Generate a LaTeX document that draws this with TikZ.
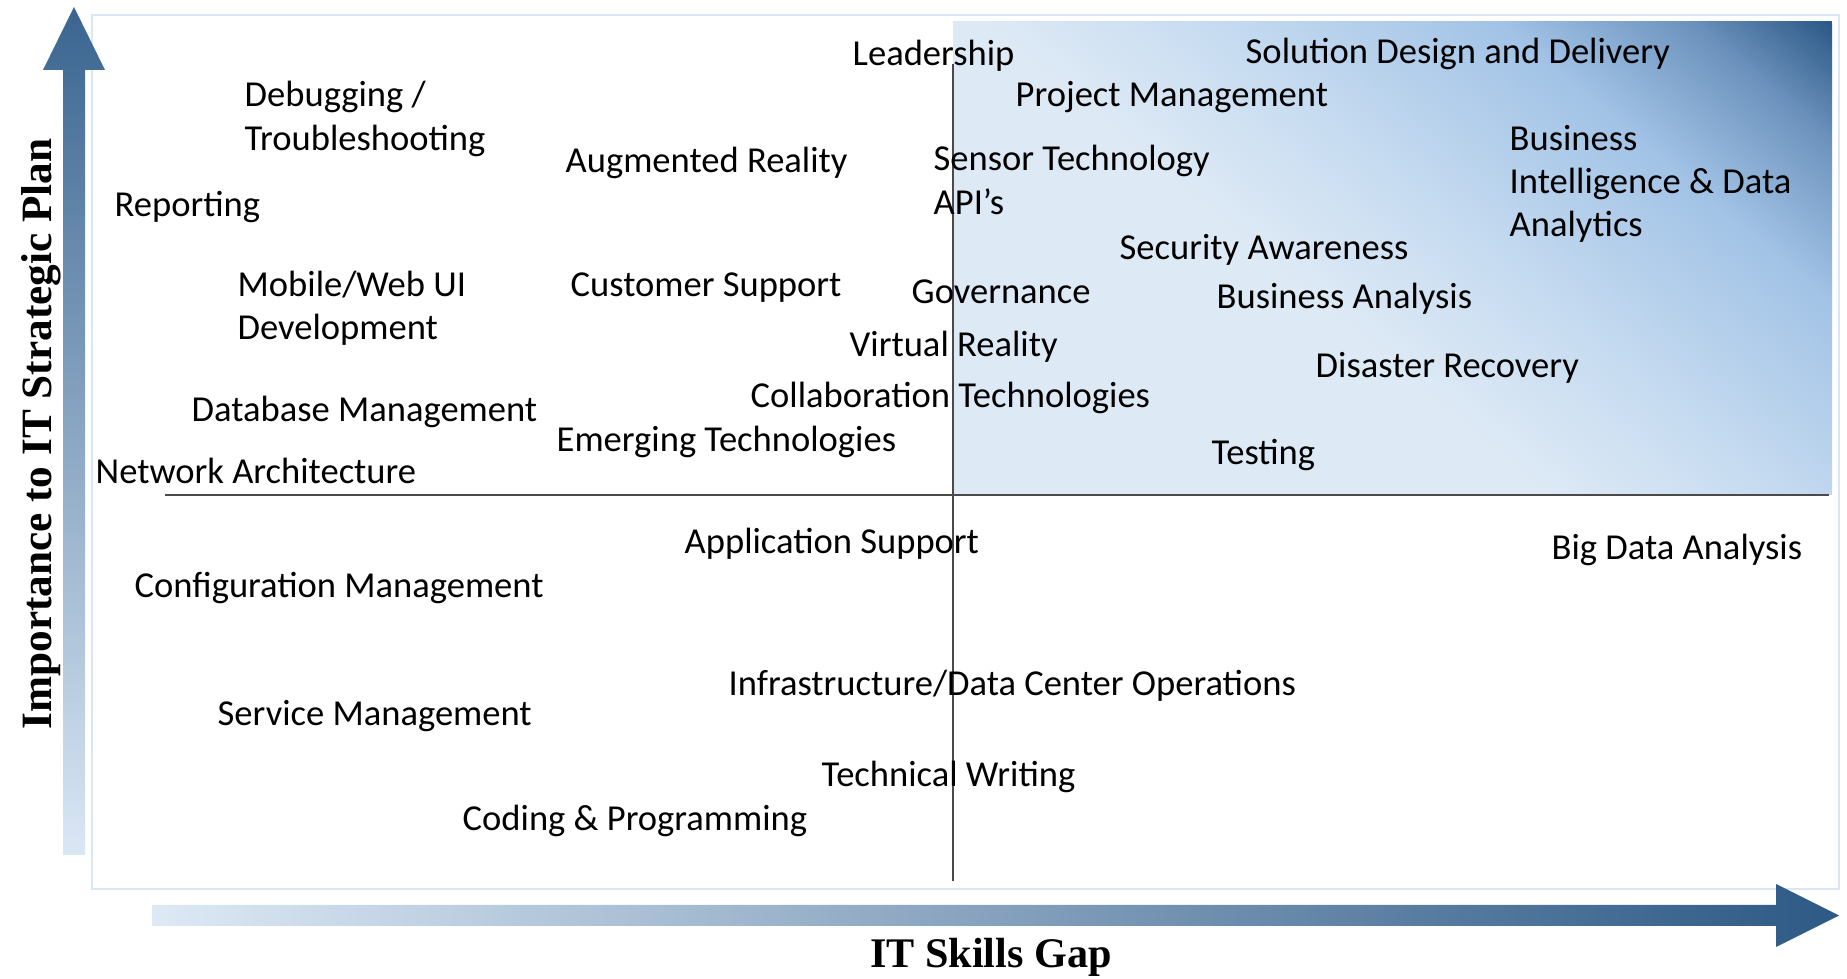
\documentclass[tikz,border=0pt]{standalone}
\usepackage{fontspec}
\setmainfont{Carlito}
\newfontfamily\axisfont{Liberation Serif}

\definecolor{qpale}{HTML}{DDE9F5}
\definecolor{qsoft}{HTML}{C9DDF1}
\definecolor{qmid}{HTML}{A2C3E6}
\definecolor{qsteel}{HTML}{6E94BE}
\definecolor{qdeep}{HTML}{2C5886}
\definecolor{frameblue}{HTML}{DAE6F4}
\definecolor{axisgray}{HTML}{4A4A4A}
\definecolor{arrlow}{HTML}{DAE7F5}
\definecolor{arrmid}{HTML}{A9C8E7}
\definecolor{arrtop}{HTML}{3A6590}
\definecolor{arrend}{HTML}{2D5985}

\pgfdeclarehorizontalshading{quadfill}{100bp}{color(0bp)=(qpale); color(25bp)=(qpale); color(46bp)=(qpale); color(52.5bp)=(qsoft); color(62.5bp)=(qmid); color(68.5bp)=(qsteel); color(73.25bp)=(qdeep); color(100bp)=(qdeep)}

\begin{document}
\begin{tikzpicture}[
		skill/.style={anchor=west,inner sep=0pt,yshift=-0.3mm,align=left,font=\fontsize{10.4}{12.3}\selectfont},
		axis title/.style={inner sep=0pt,font=\axisfont\bfseries\fontsize{12}{14}\selectfont},
		quad line/.style={draw=axisgray,line width=0.7pt}]
		
		\useasboundingbox (0,0) rectangle (18.47,9.79);
		\draw[frameblue,line width=0.8pt] (0.92,0.90) rectangle (18.39,9.64);
		\begin{scope}
			\clip (9.53,4.84) rectangle (18.32,9.57);
			\shade[shading=quadfill,shading angle=50] (13.925,7.205) circle (4.99);
		\end{scope}
		
		\coordinate (west) at (1.65,4.84);
		\coordinate (east) at (18.29,4.84);
		\coordinate (north) at (9.53,9.15);
		\coordinate (south) at (9.53,0.98);
		\path[quad line] (west) -- (east);
		\path[quad line] (north) -- (south);
		
		\path[top color=arrtop,middle color=arrmid,bottom color=arrlow]
		(0.63,1.24) -- (0.63,9.09) -- (0.43,9.09) -- (0.74,9.72) -- (1.05,9.09) -- (0.85,9.09) -- (0.85,1.24) -- cycle;
		\path[left color=qpale,middle color=arrmid!90!qpale,right color=arrend]
		(1.52,0.53) -- (17.76,0.53) -- (17.76,0.32) -- (18.39,0.635) -- (17.76,0.95) -- (17.76,0.74) -- (1.52,0.74) -- cycle;
		
		\node[axis title,rotate=90,font=\axisfont\bfseries\fontsize{12.3}{14}\selectfont] (ytitle) at (0.41,5.45) {Importance to IT Strategic Plan};
		\node[axis title] (xtitle) at (9.91,0.22) {IT Skills Gap};
		
		\node[skill] (1) at (8.52,9.26) {Leadership};
		\node[skill] (2) at (12.45,9.28) {Solution Design and Delivery};
		\node[skill] (3) at (2.44,8.63) {Debugging /\\Troubleshooting};
		\node[skill] (4) at (10.15,8.85) {Project Management};
		\node[skill] (5) at (5.65,8.19) {Augmented Reality};
		\node[skill] (6) at (9.33,8.02) {Sensor Technology\\API’s};
		\node[skill] (7) at (15.09,7.98) {Business\\Intelligence \& Data\\Analytics};
		\node[skill] (8) at (1.14,7.75) {Reporting};
		\node[skill] (9) at (11.19,7.32) {Security Awareness};
		\node[skill] (10) at (2.37,6.74) {Mobile/Web UI\\Development};
		\node[skill] (11) at (5.70,6.94) {Customer Support};
		\node[skill] (12) at (9.11,6.90) {Governance};
		\node[skill] (13) at (12.16,6.83) {Business Analysis};
		\node[skill] (14) at (8.49,6.35) {Virtual Reality};
		\node[skill] (15) at (13.15,6.14) {Disaster Recovery};
		\node[skill] (16) at (1.91,5.70) {Database Management};
		\node[skill] (17) at (7.50,5.84) {Collaboration Technologies};
		\node[skill] (18) at (5.56,5.40) {Emerging Technologies};
		\node[skill] (19) at (0.95,5.11) {Network Architecture};
		\node[skill] (20) at (12.11,5.27) {Testing};
		\node[skill] (21) at (6.84,4.38) {Application Support};
		\node[skill] (22) at (15.51,4.32) {Big Data Analysis};
		\node[skill] (23) at (1.34,3.94) {Configuration Management};
		\node[skill] (24) at (7.28,2.96) {Infrastructure/Data Center Operations};
		\node[skill] (25) at (2.17,2.66) {Service Management};
		\node[skill] (26) at (8.21,2.05) {Technical Writing};
		\node[skill] (27) at (4.62,1.61) {Coding \& Programming};
\end{tikzpicture}
\end{document}
